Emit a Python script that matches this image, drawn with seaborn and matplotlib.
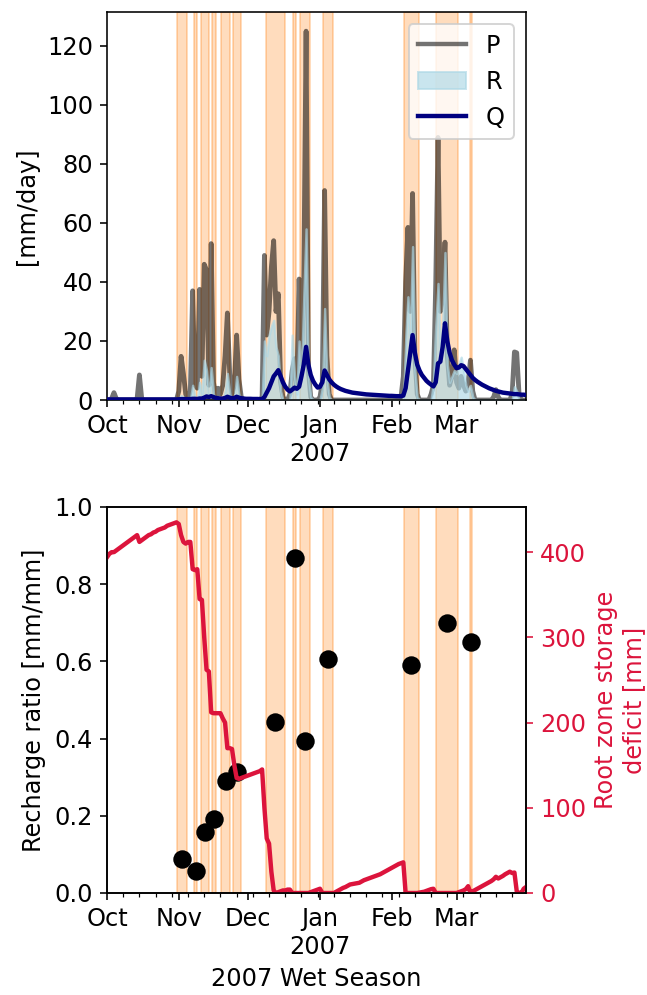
import numpy as np
import pandas as pd
import matplotlib
matplotlib.use("Agg")
import matplotlib.pyplot as plt
import matplotlib.dates as mdates
from matplotlib.ticker import FuncFormatter, MultipleLocator
from matplotlib.patches import Patch
from matplotlib.lines import Line2D
import seaborn as sns

plt.rcParams['font.family'] = ['DejaVu Sans']
plt.rcParams['font.size'] = 12

# ---------------- data ----------------
start_date = "2006-10-01"
end_date = "2007-03-31"

# daily precipitation P [mm/day], Oct 1 2006 .. Mar 31 2007
P = [0, 0, 0.5, 2.5, 0.5, 0, 0, 0, 0, 0,
     0, 0, 0, 0.5, 8.5, 0.5, 0, 0, 0, 0,
     0, 0, 0, 0, 0, 0, 0, 0, 0, 0,
     0, 3, 14.8, 9, 2, 0, 3, 37, 5, 4,
     37.5, 8, 46, 44, 5, 53, 6, 1, 4, 2,
     5, 15, 29.5, 9, 2, 5, 22, 7, 1, 0,
     0, 0, 0, 0, 0, 0, 0, 1, 49, 22,
     30, 45, 54, 30, 36, 6, 1, 0, 0, 2,
     10, 14, 4, 41, 12, 40, 125, 10, 1, 0,
     0, 0, 1, 6, 71, 15, 2, 0, 0, 0,
     0, 0, 0, 0, 0, 0, 0, 0, 0, 0,
     0, 0, 0, 0, 0, 0, 0, 0, 0, 0,
     0, 0, 0, 0, 0, 0, 0, 1, 8, 40,
     58.5, 30, 70, 15, 2, 0, 0, 0, 0, 0,
     2, 5, 39.5, 89, 30, 35, 53.5, 15, 5, 8,
     17, 6, 4, 8, 5, 3, 6, 13.5, 3, 0,
     0, 0, 0, 0, 0, 0, 0, 1, 3.5, 1,
     0, 0, 0, 0, 0, 2, 16.3, 16, 2, 0,
     0, 0]

# daily recharge R [mm/day]
R = [0, 0, 0, 0, 0, 0, 0, 0, 0, 0,
     0, 0, 0, 0, 0, 0, 0, 0, 0, 0,
     0, 0, 0, 0, 0, 0, 0, 0, 0, 0,
     0, 0, 1.5, 1, 0, 0, 0, 5, 1, 0,
     6, 2, 13.5, 10, 1, 11, 2, 0, 0, 0,
     0, 3, 9, 2, 0, 0, 8, 2, 0, 0,
     0, 0, 0, 0, 0, 0, 0, 0, 20, 15,
     22, 25, 27, 18, 15, 3, 0, 0, 0, 0,
     22, 8, 2, 20, 8, 35, 58, 8, 1, 0,
     0, 0, 0, 4, 31, 7, 1, 0, 0, 0,
     0, 0, 0, 0, 0, 0, 0, 0, 0, 0,
     0, 0, 0, 0, 0, 0, 0, 0, 0, 0,
     0, 0, 0, 0, 0, 0, 0, 0, 0, 20,
     35, 22, 52, 10, 1, 0, 0, 0, 0, 0,
     0, 6, 25, 39.5, 18, 25, 50, 12, 6, 8,
     10, 9, 12, 14.5, 10, 5, 3, 5, 1, 0,
     0, 0, 0, 0, 0, 0, 0, 0, 0, 0,
     0, 0, 0, 0, 0, 0, 4.5, 3, 0, 0,
     0, 0]

# daily streamflow Q [mm/day]
Q = [0.2, 0.2, 0.2, 0.2, 0.2, 0.2, 0.2, 0.2, 0.2, 0.2,
     0.2, 0.2, 0.2, 0.2, 0.2, 0.2, 0.2, 0.2, 0.2, 0.2,
     0.2, 0.2, 0.2, 0.2, 0.2, 0.2, 0.2, 0.2, 0.2, 0.2,
     0.2, 0.25, 0.3, 0.3, 0.3, 0.3, 0.3, 0.4, 0.4, 0.35,
     0.5, 0.5, 0.8, 1.2, 1.0, 1.3, 1.0, 0.7, 0.6, 0.5,
     0.5, 0.7, 1.1, 0.8, 0.6, 0.7, 1.1, 0.8, 0.6, 0.5,
     0.4, 0.4, 0.4, 0.35, 0.35, 0.35, 0.3, 0.3, 1.0, 2.5,
     4, 6, 8, 9, 10.1, 8, 6, 4.5, 3.5, 2.9,
     3.5, 4.2, 3.8, 4.5, 8, 12, 18, 12, 8.5, 6.5,
     5.2, 4.2, 4.5, 6, 10, 8.5, 7, 6, 5.2, 4.6,
     4.1, 3.7, 3.4, 3.1, 2.9, 2.7, 2.5, 2.4, 2.3, 2.2,
     2.1, 2.0, 1.9, 1.85, 1.8, 1.75, 1.7, 1.65, 1.6, 1.55,
     1.5, 1.45, 1.4, 1.4, 1.35, 1.3, 1.3, 1.25, 1.5, 4,
     10, 16, 22, 16, 12, 10, 8.5, 7.5, 6.5, 5.8,
     5.2, 4.6, 6, 12.4, 13, 18, 26, 20, 16, 13.5,
     12, 10.8, 11, 11.8, 11.5, 10.5, 9.5, 8.5, 7.5, 6.8,
     6.2, 5.7, 5.2, 4.8, 4.4, 4.0, 3.7, 3.4, 3.1, 2.9,
     2.7, 2.5, 2.4, 2.3, 2.2, 2.1, 2.0, 2.0, 1.9, 1.8,
     1.8, 1.7]

# root zone storage deficit [mm]
deficit = [394, 398, 400, 400, 402, 404, 406, 408, 410, 412,
           414, 416, 418, 420, 412, 414, 416, 418, 420, 421,
           423, 424, 426, 427, 428, 429, 431, 432, 433, 434,
           435, 433, 420, 412, 410, 412, 412, 380, 379, 380,
           345, 344, 300, 262, 260, 212, 211, 211, 211, 211,
           205, 200, 170, 170, 169, 150, 135, 134, 135, 136,
           137, 138, 139, 140, 141, 142, 143, 145, 100, 64,
           58, 25, 3, 0, 1, 2, 3, 3, 4, 4,
           0, 0, 0, 0, 0, 0, 0, 0, 1, 2,
           3, 4, 5, 0, 0, 0, 0, 0, 0, 1.5,
           3, 4.5, 6, 7, 8.5, 10, 10.5, 11, 11.5, 12,
           13.5, 15, 16, 17, 18, 19, 20, 21, 22, 23.5,
           25, 26.5, 28, 29.5, 31, 32.5, 34, 35, 36, 0,
           0, 0, 0, 0, 0, 0.5, 1, 1.5, 2.5, 3.5,
           4.5, 5, 0, 0, 0, 0, 0, 0, 0, 0,
           0, 0, 1, 2, 3, 4.5, 8, 0, 2, 3.5,
           5, 6.5, 8, 9.5, 11, 12.5, 14, 16, 19, 17,
           18.5, 20, 22, 23.5, 25, 23.5, 24, 2, 0, 0,
           5, 7]

# recharge events (shaded periods) and their recharge ratio
event_start = ["2006-10-31 07:00", "2006-11-07 14:00", "2006-11-10 12:00",
               "2006-11-15 10:00", "2006-11-19 10:00", "2006-11-24 10:00",
               "2006-12-08 12:00", "2006-12-20 07:00", "2006-12-23 07:00",
               "2007-01-02 05:00", "2007-02-06 02:00", "2007-02-20 02:00",
               "2007-03-06 19:00"]
event_end = ["2006-11-04 14:00", "2006-11-08 22:00", "2006-11-14 00:00",
             "2006-11-17 00:00", "2006-11-23 00:00", "2006-11-27 19:00",
             "2006-12-16 17:00", "2006-12-21 17:00", "2006-12-27 19:00",
             "2007-01-06 12:00", "2007-02-12 14:00", "2007-03-01 14:00",
             "2007-03-07 17:00"]
recharge_ratio = [0.087, 0.057, 0.157, 0.191, 0.291, 0.314, 0.442,
                  0.868, 0.395, 0.606, 0.591, 0.700, 0.649]

# ---------------- frames ----------------
dates = pd.date_range(start_date, end_date, freq="D")
df = pd.DataFrame({"date": dates, "P": P, "R": R, "Q": Q, "deficit": deficit})
ev = pd.DataFrame({"start": pd.to_datetime(event_start),
                   "end": pd.to_datetime(event_end),
                   "ratio": recharge_ratio})
ev["mid"] = ev["start"] + (ev["end"] - ev["start"]) / 2

W, H = 647, 995
fig = plt.figure(figsize=(W / 144, H / 144), dpi=144)
ax1 = fig.add_axes([107 / W, 1 - 400 / H, 419 / W, 388 / H])
ax2 = fig.add_axes([107 / W, 1 - 893 / H, 419 / W, 386 / H])

band_kw = dict(color="tab:orange", alpha=0.27, lw=1.0)


def fmt_month(x, pos):
    d = mdates.num2date(x)
    lab = d.strftime("%b")
    if d.month == 1:
        lab += "\n" + d.strftime("%Y")
    return lab


def style_x(ax):
    ax.set_xlim(dates[0], dates[-1])
    ax.xaxis.set_major_locator(mdates.MonthLocator())
    ax.xaxis.set_major_formatter(FuncFormatter(fmt_month))
    ax.xaxis.set_minor_locator(mdates.WeekdayLocator(byweekday=mdates.SU))
    ax.set_xlabel("")


# ---------------- top panel ----------------
for s, e in zip(ev["start"], ev["end"]):
    ax1.axvspan(s, e, zorder=1, **band_kw)
sns.lineplot(data=df, x="date", y="P", ax=ax1, color="black", alpha=0.55,
             lw=2.4, zorder=2, legend=False)
ax1.fill_between(df["date"], 0, df["R"], color="lightblue", alpha=0.65,
                 lw=1.2, zorder=2.5)
sns.lineplot(data=df, x="date", y="Q", ax=ax1, color="navy", lw=2.2,
             zorder=3, legend=False)
ax1.set_ylim(0, 131.5)
ax1.set_ylabel("[mm/day]")
style_x(ax1)
handles = [Line2D([], [], color="black", alpha=0.55, lw=2.2),
           Patch(facecolor="lightblue", edgecolor="lightblue", alpha=0.65),
           Line2D([], [], color="navy", lw=2.2)]
ax1.legend(handles, ["P", "R", "Q"], loc="upper right")

# ---------------- bottom panel ----------------
for s, e in zip(ev["start"], ev["end"]):
    ax2.axvspan(s, e, zorder=1, **band_kw)
sns.scatterplot(data=ev, x="mid", y="ratio", ax=ax2, color="black", s=85,
                linewidth=0, zorder=3, legend=False)
ax2.set_ylim(0, 1.0)
ax2.yaxis.set_major_locator(MultipleLocator(0.2))
ax2.set_ylabel("Recharge ratio [mm/mm]")
style_x(ax2)

ax3 = ax2.twinx()
sns.lineplot(data=df, x="date", y="deficit", ax=ax3, color="crimson", lw=2.2,
             legend=False)
ax3.set_ylim(0, 453)
ax3.yaxis.set_major_locator(MultipleLocator(100))
ax3.set_ylabel("Root zone storage\ndeficit [mm]", color="crimson")
ax3.tick_params(axis="y", colors="crimson")
style_x(ax3)
ax3.set_xlabel("")
ax2.set_xlabel("2007 Wet Season")

fig.savefig("out.png", dpi=144)
